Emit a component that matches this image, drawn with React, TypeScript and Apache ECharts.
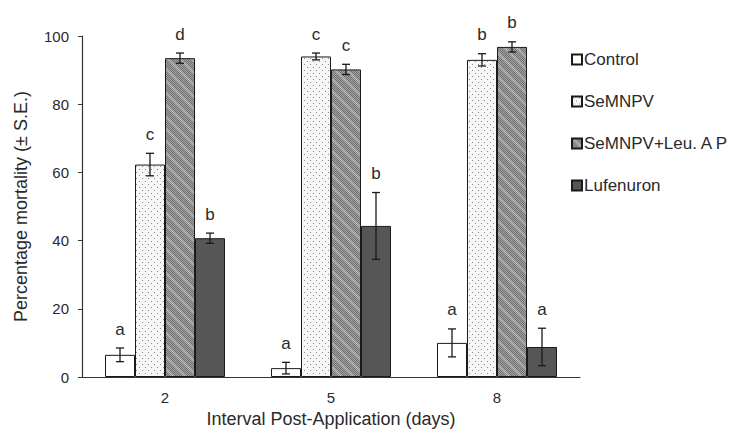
import React, { useEffect, useRef } from "react";
import * as echarts from "echarts";

const categories = ["2", "5", "8"];
const seriesNames = ["Control", "SeMNPV", "SeMNPV+Leu. A P", "Lufenuron"];
const controlVals = [6.5, 2.6, 10];
const semnpvVals = [62.3, 94, 93];
const leuVals = [93.5, 90.2, 96.8];
const lufVals = [40.7, 44.3, 8.8];
const controlErr = [2, 1.7, 4.1];
const semnpvErr = [3.3, 1, 1.8];
const leuErr = [1.5, 1.5, 1.5];
const lufErr = [1.5, 9.8, 5.5];
const controlLetters = ["a", "a", "a"];
const semnpvLetters = ["c", "c", "b"];
const leuLetters = ["d", "c", "b"];
const lufLetters = ["b", "b", "a"];

const values = [controlVals, semnpvVals, leuVals, lufVals];
const errors = [controlErr, semnpvErr, leuErr, lufErr];
const letters = [controlLetters, semnpvLetters, leuLetters, lufLetters];

function makeDots(): string {
  const c = document.createElement("canvas");
  c.width = 6;
  c.height = 6;
  const g = c.getContext("2d")!;
  g.fillStyle = "#f6f6f6";
  g.fillRect(0, 0, 6, 6);
  g.fillStyle = "#8a8a8a";
  g.fillRect(1, 1, 1, 1);
  g.fillRect(4, 4, 1, 1);
  return c.toDataURL();
}

function makeHatch(): string {
  const n = 12;
  const c = document.createElement("canvas");
  c.width = n;
  c.height = n;
  const g = c.getContext("2d")!;
  g.fillStyle = "#a4a4a4";
  g.fillRect(0, 0, n, n);
  g.fillStyle = "#6e6e6e";
  for (let x = 0; x < n; x++) {
    for (let y = 0; y < n; y++) {
      if ((x + y) % 2 === 0) g.fillRect(x, y, 1, 1);
    }
  }
  g.fillStyle = "rgba(200,200,200,0.5)";
  for (let x = 0; x < n; x++) {
    for (let y = 0; y < n; y++) {
      const d = (x - y + n) % n;
      if (d < 3) g.fillRect(x, y, 1, 1);
    }
  }
  return c.toDataURL();
}

export default function App() {
  const ref = useRef<HTMLDivElement>(null);
  useEffect(() => {
    if (!ref.current) return;
    const chart = echarts.init(ref.current, undefined, { renderer: "svg" });
    const dots = makeDots();
    const hatch = makeHatch();
    const fills: any[] = [
      "#ffffff",
      { image: dots, repeat: "repeat" },
      { image: hatch, repeat: "repeat" },
      "#565656",
    ];
    const barW = 30;
    const font = "Liberation Sans, Arial, sans-serif";
    const textColor = "#2a2a2a";

    const barSeries = seriesNames.map((name, i) => ({
      name,
      type: "bar",
      data: values[i],
      barWidth: barW,
      barGap: "0%",
      itemStyle: { color: fills[i], borderColor: "#1a1a1a", borderWidth: 1 },
    }));

    const errData: any[] = [];
    for (let s = 0; s < 4; s++) {
      for (let c = 0; c < categories.length; c++) {
        errData.push([c, values[s][c], errors[s][c], s, letters[s][c]]);
      }
    }

    const errSeries = {
      type: "custom",
      name: "err",
      data: errData,
      z: 10,
      renderItem: (params: any, api: any) => {
        const c = api.value(0);
        const v = api.value(1);
        const e = api.value(2);
        const s = api.value(3);
        const letter = errData[params.dataIndex][4];
        const top = api.coord([c, v + e]);
        const bot = api.coord([c, v - e]);
        const x = top[0] + (s - 1.5) * barW;
        const cap = 4;
        const st = { stroke: "#1a1a1a", lineWidth: 1.3 };
        return {
          type: "group",
          children: [
            { type: "line", shape: { x1: x, y1: top[1], x2: x, y2: bot[1] }, style: st },
            { type: "line", shape: { x1: x - cap, y1: top[1], x2: x + cap, y2: top[1] }, style: st },
            { type: "line", shape: { x1: x - cap, y1: bot[1], x2: x + cap, y2: bot[1] }, style: st },
            {
              type: "text",
              style: {
                text: letter,
                x: x,
                y: Math.max(top[1] - 19, 16),
                align: "center",
                verticalAlign: "middle",
                fontSize: 17,
                fontFamily: font,
                fill: textColor,
              },
            },
          ],
        };
      },
    };

    chart.setOption({
      animation: false,
      textStyle: { fontFamily: font },
      grid: { left: 82, right: 159, top: 36, bottom: 60, containLabel: false },
      legend: {
        data: seriesNames,
        orient: "vertical",
        left: 566,
        top: 46,
        itemWidth: 10,
        itemHeight: 10,
        itemGap: 25,
        icon: "rect",
        textStyle: { fontSize: 17, color: textColor, fontFamily: font, padding: [0, 0, 0, -3] },
      },
      xAxis: {
        type: "category",
        data: categories,
        name: "Interval Post-Application (days)",
        nameLocation: "middle",
        nameGap: 32,
        nameTextStyle: { fontSize: 18, color: textColor, fontFamily: font },
        axisLine: { lineStyle: { color: "#333", width: 1.2 } },
        axisTick: { length: 4, lineStyle: { color: "#333" } },
        axisLabel: { fontSize: 15, color: textColor, margin: 13, fontFamily: font },
      },
      yAxis: {
        type: "value",
        min: 0,
        max: 100,
        interval: 20,
        name: "Percentage mortality (± S.E.)",
        nameLocation: "middle",
        nameGap: 52,
        nameTextStyle: { fontSize: 18, color: textColor, fontFamily: font },
        splitLine: { show: false },
        axisLine: { show: true, lineStyle: { color: "#333", width: 1.2 } },
        axisTick: { show: true, length: 4, lineStyle: { color: "#333" } },
        axisLabel: { fontSize: 15, color: textColor, margin: 13, fontFamily: font },
      },
      series: [...barSeries, errSeries],
    });
    return () => chart.dispose();
  }, []);
  return <div ref={ref} style={{ width: 739, height: 437, margin: -8 }} />;
}
